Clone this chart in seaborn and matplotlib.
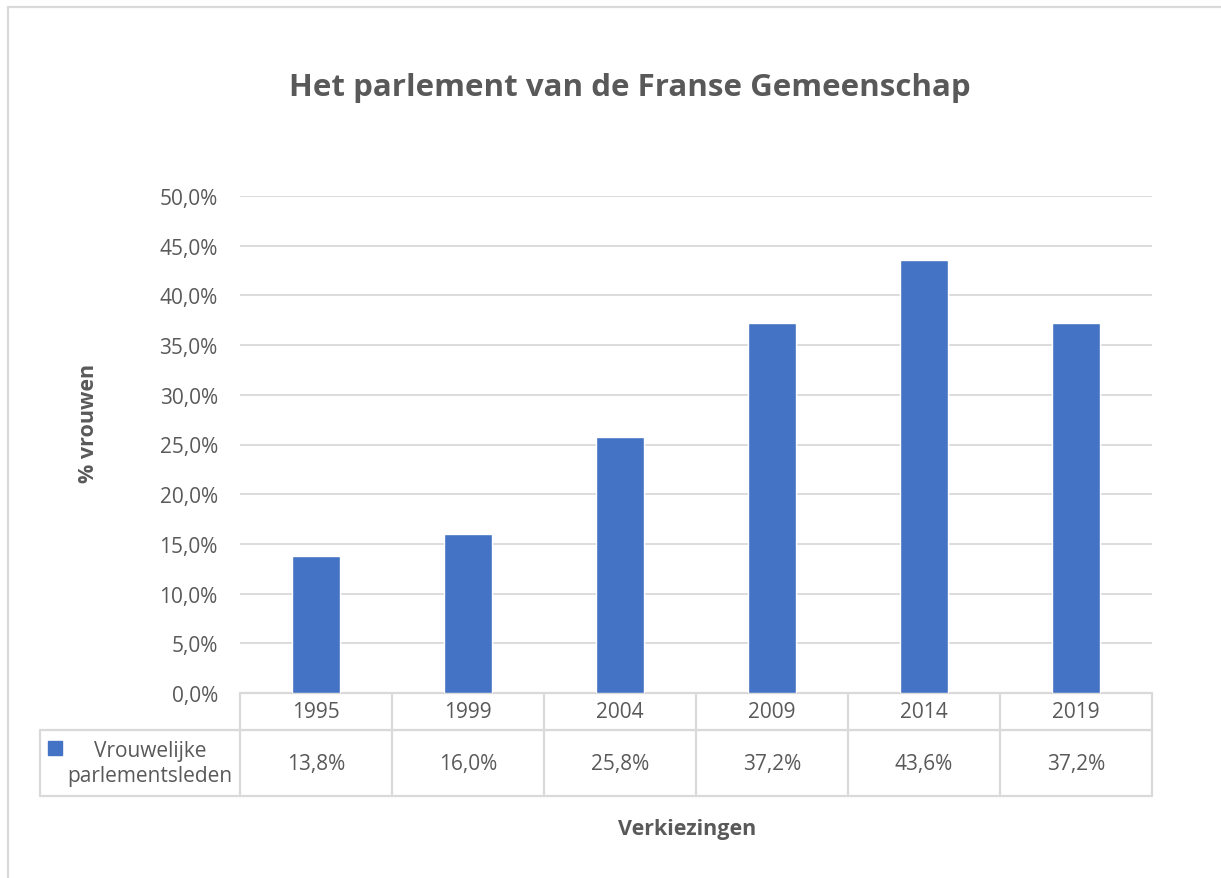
import matplotlib
matplotlib.use("Agg")
import matplotlib.pyplot as plt
import seaborn as sns
import pandas as pd
from matplotlib.patches import Rectangle
from matplotlib.ticker import FuncFormatter

# --- data ---
years = ["1995", "1999", "2004", "2009", "2014", "2019"]
pct_women = [13.8, 16.0, 25.8, 37.2, 43.6, 37.2]
series_name = "Vrouwelijke\nparlementsleden"

df = pd.DataFrame({"jaar": years, "pct": [v / 100 for v in pct_women]})

sns.set_theme(style="white")
plt.rcParams["font.family"] = ["Open Sans", "DejaVu Sans"]

txt = "#595959"
line_c = "#d9d9d9"
bar_c = "#4472C4"
fs = 15

W, H = 1221, 879
fig = plt.figure(figsize=(W / 100, H / 100), dpi=100)

# plot area in pixel terms
x0, x1, y0, y1 = 240, 1152, 197, 694
ax = fig.add_axes([x0 / W, 1 - y1 / H, (x1 - x0) / W, (y1 - y0) / H])

sns.barplot(data=df, x="jaar", y="pct", color=bar_c, width=0.316,
            saturation=1, ax=ax, zorder=3)
ax.set_xlim(-0.5, len(years) - 0.5)
ax.set_ylim(0, 0.5)
ax.set_yticks([i * 0.05 for i in range(11)])
ax.yaxis.set_major_formatter(FuncFormatter(lambda v, p: f"{v * 100:.1f}%".replace(".", ",")))
ax.tick_params(axis="y", labelsize=fs, colors=txt, length=0, pad=16)
ax.set_xticks([])
ax.set_xlabel("")
ax.set_ylabel("")
ax.grid(axis="y", color=line_c, lw=1.3, zorder=0)
for s in ax.spines.values():
    s.set_visible(False)

# --- data table below the axis ---
ah = y1 - y0
aw = x1 - x0
def ay(py):
    return (y1 - py) / ah
def axx(px):
    return (px - x0) / aw

r_top, r_mid, r_bot = 694, 731, 797
left_edge = 40
lk = dict(color=line_c, lw=1.6, clip_on=False, transform=ax.transAxes, zorder=1)
ax.plot([0, 1], [ay(r_top)] * 2, **lk)
ax.plot([axx(left_edge), 1], [ay(r_mid)] * 2, **lk)
ax.plot([axx(left_edge), 1], [ay(r_bot)] * 2, **lk)
ax.plot([axx(left_edge)] * 2, [ay(r_mid), ay(r_bot)], **lk)
ax.plot([0, 0], [ay(r_top), ay(r_bot)], **lk)
tr = ax.get_xaxis_transform()
for i in range(len(years)):
    ax.plot([i + 0.5] * 2, [ay(r_top), ay(r_bot)], color=line_c, lw=1.6,
            clip_on=False, transform=tr, zorder=1)

for i, (yr, v) in enumerate(zip(years, pct_women)):
    ax.text(i, ay(713), yr, transform=tr, ha="center", va="center",
            fontsize=fs, color=txt)
    ax.text(i, ay(765), f"{v:.1f}%".replace(".", ","), transform=tr,
            ha="center", va="center", fontsize=fs, color=txt)

# legend key inside the table
ax.add_patch(Rectangle((axx(48), ay(756)), 14 / aw, 14 / ah, transform=ax.transAxes,
                       color=bar_c, clip_on=False))
ax.text(axx(150), ay(764), series_name, transform=ax.transAxes, ha="center",
        va="center", fontsize=fs, color=txt, linespacing=1.2)

# titles
fig.text(630 / W, 1 - 88 / H, "Het parlement van de Franse Gemeenschap",
         ha="center", va="center", fontsize=22.5, fontweight="bold", color=txt)
fig.text(88 / W, 1 - 423 / H, "% vrouwen", rotation=90, ha="center", va="center",
         fontsize=15.5, fontweight="bold", color=txt)
fig.text(687 / W, 1 - 830 / H, "Verkiezingen", ha="center", va="center",
         fontsize=15.5, fontweight="bold", color=txt)

# chart frame
fig.add_artist(Rectangle((8 / W, -0.1), 1.2, 1 - 8 / H + 0.1, transform=fig.transFigure,
                         fill=False, edgecolor=line_c, lw=1.6))

fig.savefig("out.png", dpi=100, facecolor="white")
